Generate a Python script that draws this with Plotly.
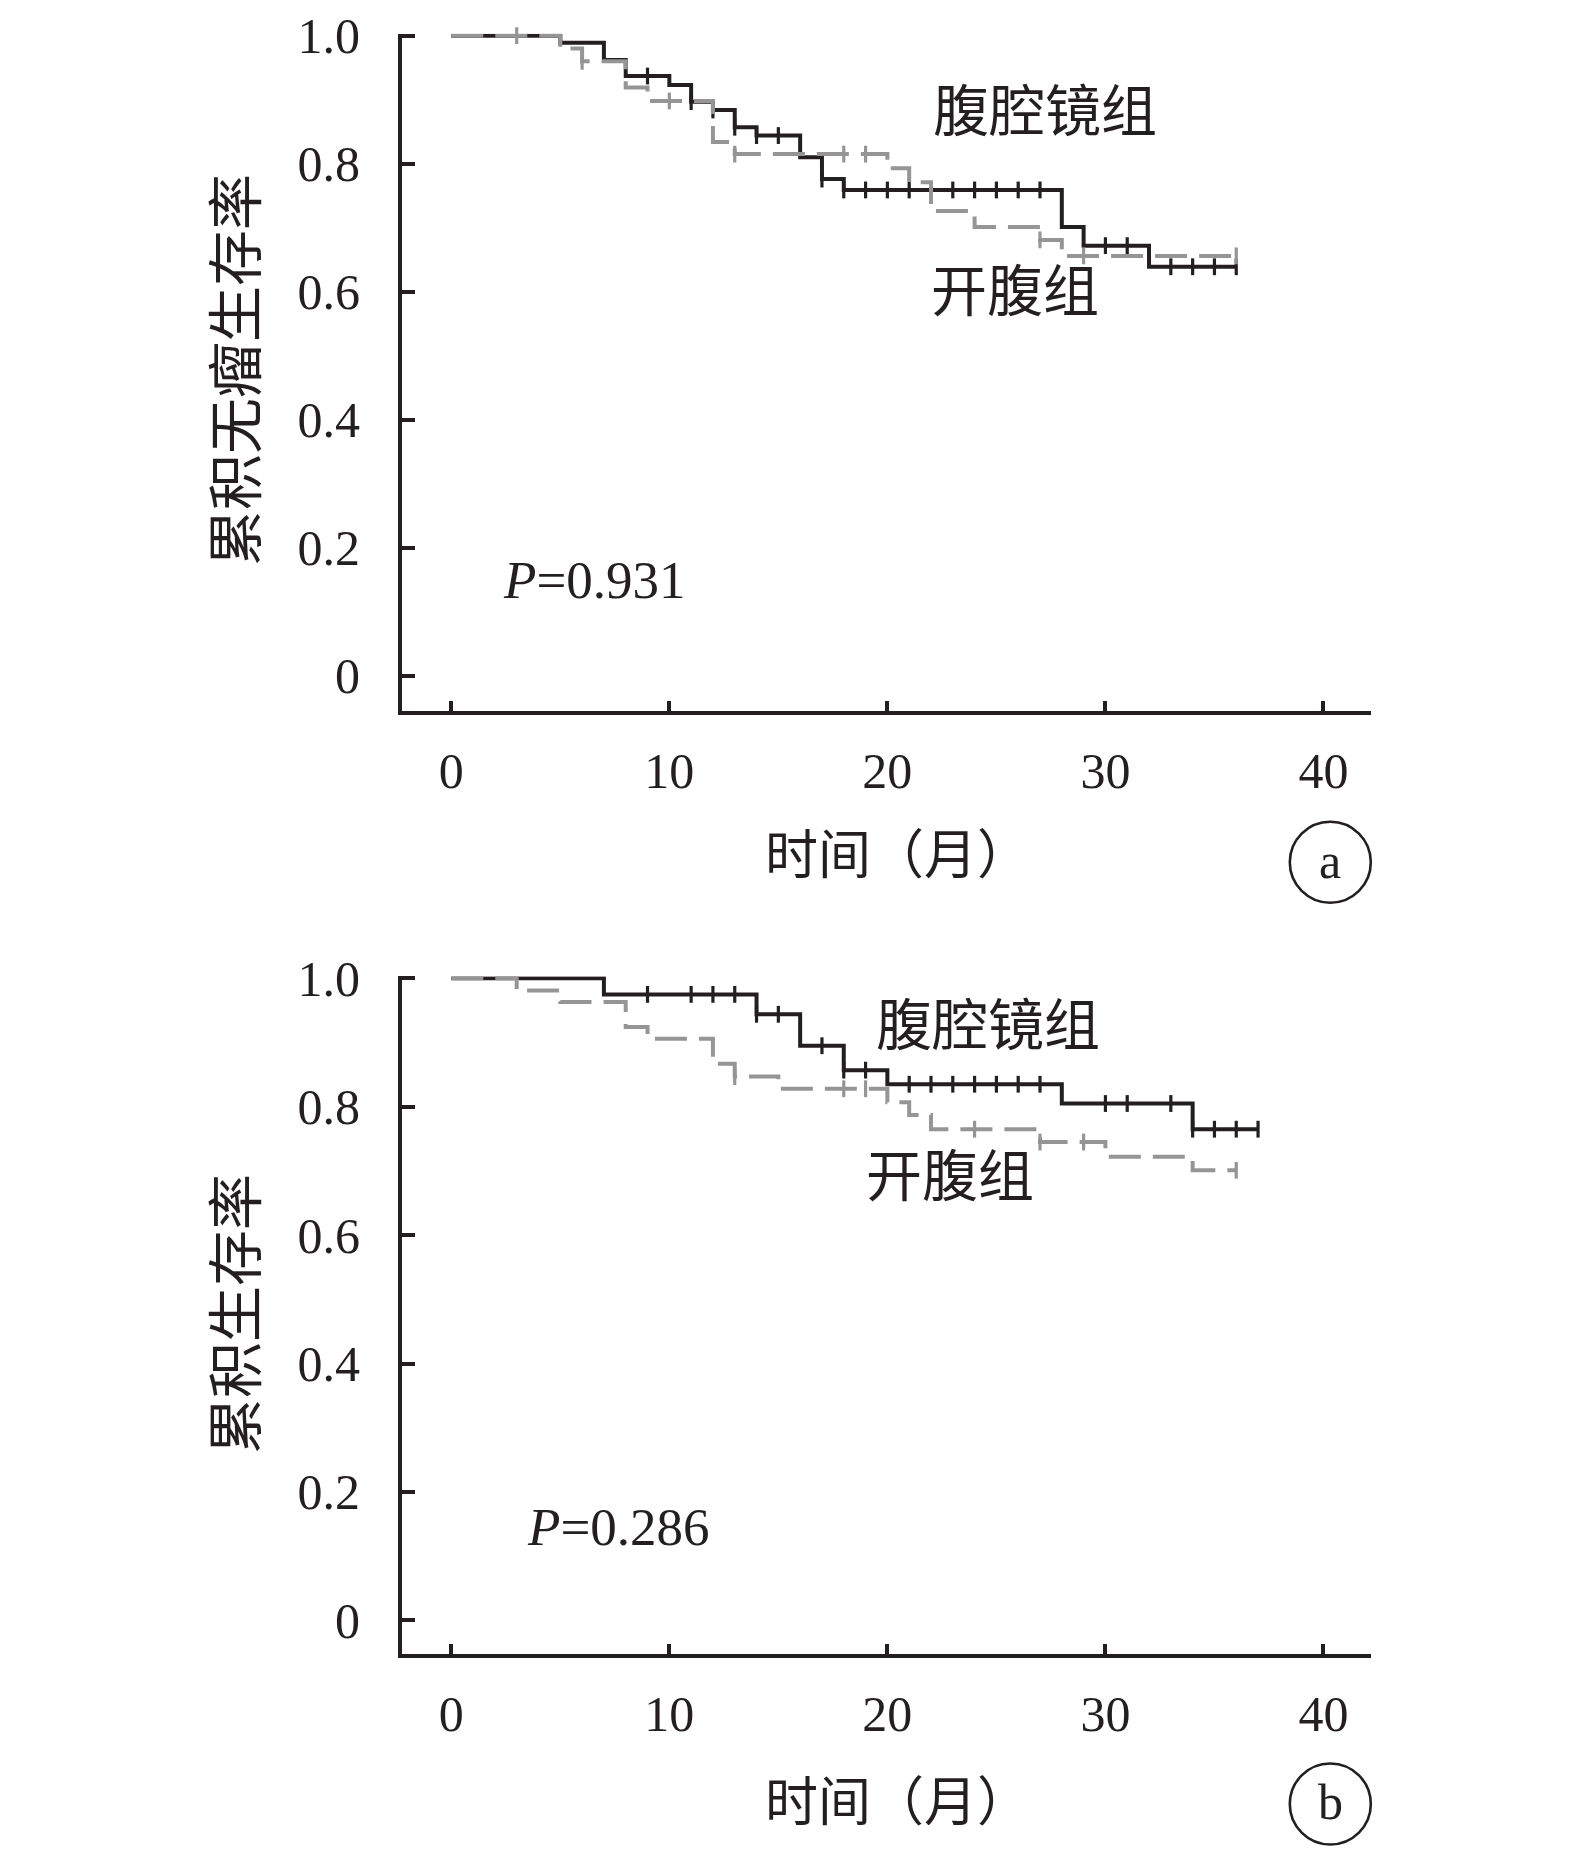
import numpy as np
import plotly.graph_objects as go

# ---------------- data ----------------
# Panel a: cumulative disease-free survival
a_lap_time = [0, 5, 7, 8, 10, 11, 12, 13, 14, 16, 17, 18, 28, 29, 32]
a_lap_surv = [1.0, 0.989, 0.962, 0.937, 0.923, 0.897, 0.884, 0.857, 0.844, 0.810, 0.776, 0.759, 0.701, 0.672, 0.639]
a_lap_end = 36
a_lap_censor = [9, 11, 12, 13, 14, 15, 17, 18, 19, 20, 21, 22, 23, 24, 25, 26, 27, 30, 31, 33, 34, 35, 36]

a_open_time = [0, 5, 6, 8, 9, 12, 13, 20, 21, 22, 24, 27, 28]
a_open_surv = [1.0, 0.980, 0.960, 0.919, 0.898, 0.834, 0.815, 0.793, 0.771, 0.726, 0.701, 0.681, 0.656]
a_open_end = 36
a_open_censor = [3, 6, 10, 13, 18, 19, 27, 29, 36]

# Panel b: cumulative overall survival
b_lap_time = [0, 7, 14, 16, 18, 20, 28, 34]
b_lap_surv = [1.0, 0.975, 0.944, 0.895, 0.857, 0.835, 0.805, 0.765]
b_lap_end = 37
b_lap_censor = [9, 11, 12, 13, 14, 15, 17, 18, 19, 21, 22, 23, 24, 25, 26, 27, 30, 31, 33, 34, 35, 36, 37]

b_open_time = [0, 3, 5, 8, 9, 12, 13, 15, 20, 21, 22, 27, 30, 34]
b_open_surv = [1.0, 0.981, 0.963, 0.924, 0.906, 0.867, 0.847, 0.828, 0.807, 0.787, 0.765, 0.745, 0.722, 0.701]
b_open_end = 36
b_open_censor = [13, 18, 19, 24, 27, 29, 36]

group_lap = "腹腔镜组"
group_open = "开腹组"
x_title = "时间（月）"
y_title_a = "累积无瘤生存率"
y_title_b = "累积生存率"
p_a = "0.931"
p_b = "0.286"
panel_a = "a"
panel_b = "b"

x_ticks = [0, 10, 20, 30, 40]
y_ticks = [0, 0.2, 0.4, 0.6, 0.8, 1.0]
y_ticktext = ["0", "0.2", "0.4", "0.6", "0.8", "1.0"]

# ---------------- style ----------------
W, H = 1575, 1850
OFFX, OFFY = 7, 9  # page body margin compensation
BLACK = "#231f20"
GRAY = "#959595"
SERIF = "Liberation Serif, Noto Sans CJK SC, serif"
CJK = "Noto Sans CJK SC, sans-serif"


def px(X):
    return (X - OFFX) / W


def py(Y):
    return 1 - (Y - OFFY) / H


def step_value(times, surv, t):
    i = np.searchsorted(np.asarray(times), t, side="right") - 1
    return surv[max(i, 0)]


fig = go.Figure()


def add_curve(times, surv, end, censor, color, dash, xa, ya):
    xs = list(times) + [end]
    ys = list(surv) + [surv[-1]]
    fig.add_trace(go.Scatter(
        x=xs, y=ys, mode="lines", line=dict(shape="hv", color=color, width=4, dash=dash),
        xaxis=xa, yaxis=ya, showlegend=False, hoverinfo="skip"))
    cy = [step_value(times, surv, c) for c in censor]
    fig.add_trace(go.Scatter(
        x=censor, y=cy, mode="markers",
        marker=dict(symbol="line-ns", size=12, color=color, line=dict(width=3.2, color=color)),
        xaxis=xa, yaxis=ya, showlegend=False, hoverinfo="skip", cliponaxis=False))


add_curve(a_lap_time, a_lap_surv, a_lap_end, a_lap_censor, BLACK, "solid", "x", "y")
add_curve(a_open_time, a_open_surv, a_open_end, a_open_censor, GRAY, "32px,12px", "x", "y")
add_curve(b_lap_time, b_lap_surv, b_lap_end, b_lap_censor, BLACK, "solid", "x2", "y2")
add_curve(b_open_time, b_open_surv, b_open_end, b_open_censor, GRAY, "32px,12px", "x2", "y2")

xdom = [px(401), px(1370)]
xa_common = dict(
    range=[-2.26, 42.18], tickvals=x_ticks, ticks="inside", ticklen=10, tickwidth=4,
    tickcolor=BLACK, showline=True, linewidth=4, linecolor=BLACK, showgrid=False,
    zeroline=False, tickfont=dict(family=SERIF, size=50, color=BLACK),
    ticklabelstandoff=13, domain=xdom, automargin=False, ticklabeloverflow="allow")
ya_common = dict(
    tickvals=y_ticks, ticktext=y_ticktext, ticks="inside", ticklen=13, tickwidth=4,
    tickcolor=BLACK, showline=True, linewidth=4, linecolor=BLACK, showgrid=False,
    zeroline=False, tickfont=dict(family=SERIF, size=50, color=BLACK),
    ticklabelstandoff=28, automargin=False, ticklabeloverflow="allow")

fig.update_layout(
    width=W, height=H, margin=dict(l=0, r=0, t=0, b=0, autoexpand=False),
    paper_bgcolor="white", plot_bgcolor="white",
    xaxis=dict(anchor="y", **xa_common),
    yaxis=dict(anchor="x", range=[-0.0548, 1.003], domain=[py(711.8), py(34.8)], **ya_common),
    xaxis2=dict(anchor="y2", **xa_common),
    yaxis2=dict(anchor="x2", range=[-0.0517, 1.003], domain=[py(1654.5), py(977.4)], **ya_common),
)

ann = []


def text(x, y, s, size, family=CJK, angle=0, xanchor="center"):
    ann.append(dict(x=px(x), y=py(y), xref="paper", yref="paper", text=s, showarrow=False,
                    font=dict(family=family, size=size, color=BLACK), textangle=angle,
                    xanchor=xanchor, yanchor="middle"))


# panel a texts
text(230, 371, y_title_a, 56, angle=-90)
text(896, 852, x_title, 53)
text(1044, 107, group_lap, 56)
text(1014, 287, group_open, 56)
text(500, 581, "<i>P</i>=" + p_a, 53, family=SERIF, xanchor="left")
text(1329, 862, panel_a, 50, family=SERIF)
# panel b texts
text(230, 1315, y_title_b, 56, angle=-90)
text(896, 1799, x_title, 53)
text(987, 1022, group_lap, 56)
text(949, 1172, group_open, 56)
text(524, 1528, "<i>P</i>=" + p_b, 53, family=SERIF, xanchor="left")
text(1329, 1803, panel_b, 50, family=SERIF)
fig.update_layout(annotations=ann)

r = 40.5
for cx, cy in [(1329.3, 863.3), (1329.3, 1805)]:
    fig.add_shape(type="circle", xref="paper", yref="paper",
                  x0=px(cx - r), x1=px(cx + r), y0=py(cy + r), y1=py(cy - r),
                  line=dict(color=BLACK, width=2.6))

fig.write_html("out.html")
